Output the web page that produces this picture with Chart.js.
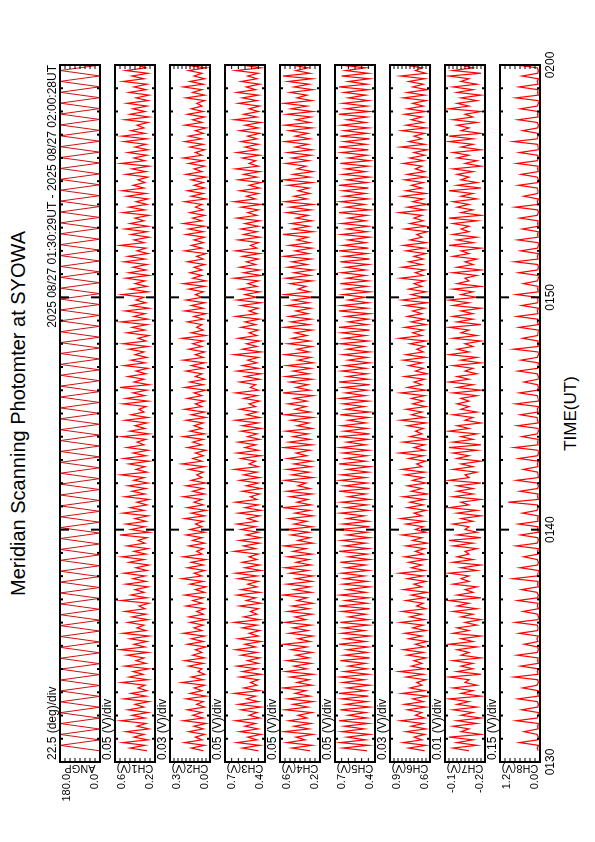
<!DOCTYPE html>
<html><head><meta charset="utf-8">
<script src="https://cdn.jsdelivr.net/npm/chart.js@4.4.1/dist/chart.umd.min.js"></script>
<style>
html,body{margin:0;padding:0;background:#fff;}
body{width:595px;height:842px;overflow:hidden;position:relative;}
#land{position:absolute;left:0;top:0;width:842px;height:595px;transform-origin:0 0;transform:translate(0,842px) rotate(-90deg);font-family:"Liberation Sans",Arial,Helvetica,sans-serif;color:#000;}
#land canvas{position:absolute;left:0;}
.txt{position:absolute;white-space:nowrap;line-height:1;text-align:center;}
</style></head><body>
<div id="land">
<div class="txt" style="left:80px;width:697px;top:8px;font-size:20px;">Meridian Scanning Photomter at SYOWA</div>
<div class="txt" style="left:80px;width:697px;top:562px;font-size:17px;">TIME(UT)</div>
</div>
<script>
// ---- data ----
const timeTickValues = [0, 10, 20, 30];
const timeTickLabels = ['0130', '0140', '0150', '0200'];
const headerText = '2025 08/27 01:30:29UT - 2025 08/27 02:00:28UT';
const dataStartMin = 29 / 60;          // 01:30:29
const dataEndMin = 30 + 28 / 60;       // 02:00:28
const channelNames = ['ANGP', 'CH1(V)', 'CH2(V)', 'CH3(V)', 'CH4(V)', 'CH5(V)', 'CH6(V)', 'CH7(V)', 'CH8(V)'];
const yMins = [0, 0.2, 0.0, 0.4, 0.2, 0.4, 0.6, -0.2, 0.0];
const yMaxs = [180, 0.6, 0.3, 0.7, 0.6, 0.7, 0.9, -0.1, 1.2];
const yDivs = [22.5, 0.05, 0.03, 0.05, 0.05, 0.05, 0.03, 0.01, 0.15];
const yMinLabels = ['0.0', '0.2', '0.0', '0.4', '0.2', '0.4', '0.6', '-0.2', '0.0'];
const yMaxLabels = ['180.0', '0.6', '0.3', '0.7', '0.6', '0.7', '0.9', '-0.1', '1.2'];
const divLabels = ['22.5 (deg)/div', '0.05 (V)/div', '0.03 (V)/div', '0.05 (V)/div', '0.05 (V)/div', '0.05 (V)/div', '0.03 (V)/div', '0.01 (V)/div', '0.15 (V)/div'];

const angp = [1,179,1,179,1,179,1,179,1,179,1,179,1,179,1,179,1,179,1,179,1,179,1,179,1,179,1,179,1,179,1,179,
1,179,1,179,1,179,1,179,1,179,1,179,1,179,1,179,1,179,1,179,1,179,1,179,1,179,1,179,1,179,1,179,
1,179,1,179,1,179,1,179,1,179,1,179,1,179,1,179,1,179,1,179,1,179,1,179,1,179,1,179,1,179,1,179,
1,179,1,179,1,179,1,179,1,179,1,179,1,179,1,179,1,179,1,179,1,179,1,179,1,179,1,179,1,179,1,179,1];

const ch1 = [.28,.45,.30,.52,.27,.41,.31,.49,.26,.38,.29,.54,.30,.43,.27,.47,
.31,.40,.26,.51,.29,.44,.28,.37,.30,.53,.27,.46,.32,.42,.26,.50,
.29,.39,.31,.48,.27,.55,.30,.41,.28,.45,.26,.52,.29,.38,.31,.47,
.27,.43,.29,.50,.30,.36,.26,.54,.28,.44,.31,.40,.27,.49,.29,.42,
.30,.51,.28,.39,.26,.46,.31,.53,.29,.41,.27,.48,.30,.37,.28,.55,
.26,.44,.30,.49,.29,.40,.27,.52,.31,.45,.28,.38,.26,.50,.30,.43,
.29,.47,.27,.41,.31,.54,.28,.39,.30,.46,.26,.51,.29,.42,.27,.48,
.31,.38,.29,.53,.26,.45,.30,.40,.28,.50,.27,.44,.31,.36,.29,.52,
.27,.49,.30,.42,.28,.55,.26,.41,.31,.47,.29,.39,.27,.51,.30,.44,
.28,.40,.31,.46,.27,.52,.29,.37,.26,.48,.30,.43,.28,.54,.27,.41,
.30,.50,.26,.44,.29,.39,.31,.53,.27,.45,.28,.40,.30,.49,.26,.46,
.29,.42,.28,.51,.30,.47,.27,.38,.29,.55,.31,.41,.26,.44,.28,.50,
.27,.45,.31,.40,.26,.52,.30,.46,.28,.39,.27,.48,.29,.53,.31,.42,
.30,.37,.27,.49,.29,.43,.26,.54,.30,.41,.28,.47,.27,.40,.29,.51,
.28,.53,.30,.44,.31,.38,.27,.50,.26,.45,.30,.42,.28,.48,.27,.39,
.26,.46,.29,.41,.28,.52,.31,.43,.27,.49,.29,.37,.30,.54,.28,.44];

const ch2 = [.05,.14,.04,.19,.06,.11,.04,.16,.05,.12,.03,.20,.05,.13,.06,.17,
.04,.10,.05,.18,.03,.15,.06,.12,.04,.21,.05,.14,.04,.09,.06,.16,
.05,.19,.04,.13,.06,.11,.03,.17,.05,.14,.04,.20,.06,.12,.05,.15,
.03,.16,.05,.10,.04,.18,.06,.13,.05,.19,.04,.11,.03,.15,.05,.21,
.06,.12,.04,.17,.05,.14,.03,.20,.06,.10,.05,.16,.04,.13,.06,.18,
.04,.15,.06,.11,.05,.19,.04,.14,.03,.17,.05,.12,.06,.20,.04,.13,
.05,.18,.03,.14,.06,.10,.05,.16,.04,.21,.06,.13,.05,.11,.03,.17,
.06,.13,.05,.20,.04,.15,.06,.12,.05,.18,.03,.14,.04,.19,.06,.11,
.04,.17,.06,.12,.03,.19,.05,.15,.04,.11,.06,.18,.05,.14,.04,.20,
.05,.11,.04,.16,.06,.13,.05,.21,.03,.14,.05,.10,.06,.17,.05,.12,
.03,.19,.05,.14,.04,.18,.06,.11,.05,.16,.04,.20,.03,.13,.06,.15,
.06,.12,.04,.17,.05,.10,.03,.19,.06,.14,.05,.12,.04,.18,.05,.16,
.04,.20,.06,.13,.04,.15,.05,.11,.06,.19,.03,.14,.05,.17,.04,.12,
.05,.14,.03,.18,.06,.12,.04,.16,.05,.20,.06,.11,.04,.15,.05,.19,
.06,.16,.05,.11,.03,.19,.06,.13,.04,.17,.05,.14,.06,.10,.04,.18,
.04,.13,.06,.20,.05,.15,.04,.12,.06,.16,.03,.19,.05,.14,.06,.11];

const ch3 = [.45,.57,.44,.61,.46,.53,.43,.59,.45,.55,.47,.62,.44,.52,.46,.58,
.43,.60,.45,.54,.47,.63,.44,.56,.46,.51,.45,.59,.43,.57,.46,.61,
.45,.53,.44,.58,.46,.62,.47,.55,.43,.60,.45,.52,.44,.57,.46,.63,
.44,.56,.46,.51,.45,.59,.43,.54,.47,.61,.44,.58,.46,.53,.45,.60,
.46,.62,.43,.55,.44,.57,.46,.52,.45,.63,.47,.56,.44,.59,.43,.54,
.45,.58,.47,.61,.46,.53,.44,.60,.43,.55,.45,.62,.46,.51,.44,.57,
.43,.54,.45,.59,.44,.56,.46,.63,.45,.52,.47,.58,.43,.61,.45,.55,
.47,.60,.44,.53,.46,.58,.43,.57,.45,.62,.44,.54,.46,.59,.47,.52,
.44,.56,.46,.62,.45,.51,.47,.59,.44,.55,.43,.61,.45,.57,.46,.53,
.45,.63,.43,.57,.46,.54,.44,.60,.46,.52,.45,.58,.47,.55,.44,.62,
.46,.52,.45,.58,.43,.61,.46,.55,.44,.59,.46,.53,.45,.63,.43,.56,
.44,.59,.47,.54,.45,.57,.44,.62,.46,.51,.45,.60,.44,.56,.46,.58,
.45,.55,.44,.61,.46,.53,.45,.58,.43,.63,.47,.54,.45,.59,.44,.52,
.43,.60,.46,.56,.44,.62,.45,.52,.47,.57,.44,.61,.46,.55,.45,.58,
.46,.53,.44,.59,.45,.55,.43,.63,.46,.56,.45,.52,.44,.60,.46,.57,
.45,.61,.47,.54,.44,.58,.46,.53,.45,.62,.43,.57,.46,.55,.44,.59];

const ch4 = [.30,.48,.28,.53,.35,.44,.27,.56,.31,.46,.29,.51,.33,.42,.28,.55,
.32,.47,.27,.52,.30,.45,.34,.57,.28,.43,.31,.50,.27,.54,.33,.46,
.29,.53,.31,.44,.28,.49,.33,.56,.30,.42,.27,.51,.32,.47,.29,.55,
.34,.45,.28,.52,.31,.48,.27,.43,.33,.57,.29,.46,.30,.53,.28,.44,
.27,.50,.32,.55,.29,.44,.31,.52,.28,.47,.34,.56,.27,.42,.30,.49,
.31,.54,.28,.46,.33,.51,.27,.45,.30,.57,.29,.43,.32,.50,.28,.53,
.30,.42,.34,.55,.27,.48,.31,.53,.29,.46,.28,.52,.33,.44,.30,.56,
.28,.51,.30,.47,.32,.54,.28,.43,.31,.49,.27,.55,.30,.45,.34,.52,
.33,.46,.27,.57,.30,.44,.32,.50,.28,.54,.31,.47,.29,.53,.27,.42,
.29,.55,.31,.43,.28,.52,.30,.48,.33,.45,.28,.56,.31,.49,.29,.51,
.32,.44,.29,.53,.31,.47,.27,.55,.30,.42,.34,.50,.28,.54,.30,.46,
.27,.52,.33,.48,.29,.56,.31,.45,.28,.51,.30,.43,.32,.57,.27,.47,
.31,.49,.28,.44,.32,.53,.29,.50,.27,.55,.33,.46,.30,.42,.31,.52,
.28,.56,.30,.47,.27,.43,.34,.54,.31,.48,.29,.52,.28,.45,.32,.55,
.30,.45,.32,.51,.28,.55,.30,.44,.29,.53,.27,.49,.33,.56,.28,.43,
.33,.50,.27,.46,.31,.52,.28,.57,.30,.44,.32,.48,.29,.54,.31,.47];

const ch5 = [.46,.64,.45,.66,.47,.61,.44,.65,.48,.63,.45,.67,.46,.60,.47,.66,
.44,.62,.46,.65,.45,.67,.47,.61,.44,.64,.48,.66,.45,.63,.46,.60,
.47,.66,.44,.63,.46,.61,.45,.67,.47,.62,.44,.65,.48,.64,.45,.66,
.45,.60,.47,.65,.44,.67,.46,.62,.45,.66,.47,.61,.44,.64,.46,.63,
.48,.65,.45,.62,.47,.66,.44,.60,.46,.67,.45,.63,.47,.65,.44,.61,
.46,.67,.44,.64,.45,.61,.48,.66,.45,.62,.46,.65,.44,.60,.47,.67,
.44,.63,.46,.66,.47,.65,.45,.61,.44,.67,.47,.62,.46,.64,.45,.66,
.47,.61,.45,.67,.44,.63,.46,.65,.47,.60,.45,.66,.44,.62,.48,.64,
.45,.66,.47,.62,.46,.64,.44,.67,.45,.61,.46,.65,.47,.63,.44,.60,
.46,.64,.44,.61,.48,.66,.45,.63,.47,.65,.44,.67,.46,.60,.45,.62,
.44,.67,.46,.65,.45,.60,.47,.64,.44,.62,.46,.66,.45,.61,.47,.65,
.47,.62,.45,.66,.44,.63,.46,.67,.45,.64,.47,.60,.44,.65,.46,.61,
.45,.65,.47,.60,.46,.67,.44,.62,.48,.66,.45,.63,.47,.64,.45,.67,
.46,.61,.44,.64,.47,.62,.45,.66,.44,.60,.46,.65,.45,.67,.47,.63,
.44,.66,.46,.63,.45,.65,.47,.61,.46,.67,.44,.62,.46,.64,.45,.60,
.47,.63,.45,.67,.46,.60,.44,.65,.45,.62,.47,.66,.44,.61,.46,.64];

const ch6 = [.64,.76,.63,.80,.66,.72,.64,.78,.63,.74,.65,.82,.64,.71,.66,.77,
.63,.79,.65,.73,.62,.81,.64,.75,.66,.70,.63,.78,.65,.83,.64,.74,
.66,.72,.63,.77,.65,.80,.64,.71,.62,.76,.66,.79,.63,.73,.65,.82,
.64,.75,.66,.81,.63,.70,.65,.78,.64,.74,.62,.80,.66,.72,.63,.77,
.65,.83,.64,.74,.66,.76,.63,.79,.65,.71,.64,.78,.62,.73,.66,.81,
.63,.71,.65,.78,.64,.82,.66,.72,.63,.77,.65,.75,.64,.80,.62,.74,
.66,.77,.63,.73,.65,.79,.64,.81,.66,.70,.63,.76,.65,.83,.64,.72,
.64,.80,.62,.75,.66,.71,.65,.77,.63,.82,.64,.74,.66,.78,.63,.73,
.65,.74,.64,.82,.63,.77,.66,.72,.64,.79,.62,.71,.65,.76,.66,.80,
.63,.78,.65,.70,.64,.75,.63,.83,.66,.73,.65,.79,.63,.74,.64,.77,
.66,.73,.64,.79,.62,.81,.65,.74,.63,.76,.66,.72,.64,.82,.65,.71,
.64,.81,.66,.76,.65,.72,.63,.78,.64,.80,.63,.75,.66,.70,.62,.79,
.63,.75,.65,.72,.66,.83,.64,.77,.62,.73,.65,.81,.63,.78,.66,.74,
.65,.79,.63,.77,.64,.71,.66,.80,.65,.75,.64,.72,.62,.82,.64,.76,
.66,.72,.64,.81,.63,.78,.65,.74,.66,.79,.63,.77,.65,.73,.63,.80,
.64,.77,.62,.73,.65,.76,.64,.82,.63,.71,.66,.78,.64,.75,.65,.81];

const ch7 = [-.16,-.12,-.18,-.13,-.17,-.11,-.19,-.14,-.16,-.12,-.18,-.13,-.19,-.14,-.17,-.12,
-.18,-.13,-.16,-.11,-.19,-.14,-.17,-.12,-.18,-.15,-.16,-.11,-.19,-.13,-.17,-.14,
-.17,-.12,-.19,-.14,-.16,-.13,-.18,-.11,-.17,-.14,-.19,-.12,-.16,-.13,-.18,-.15,
-.19,-.14,-.17,-.12,-.18,-.13,-.16,-.11,-.19,-.13,-.17,-.15,-.18,-.12,-.16,-.14,
-.16,-.11,-.18,-.14,-.19,-.12,-.17,-.13,-.16,-.15,-.18,-.12,-.17,-.11,-.19,-.13,
-.18,-.15,-.16,-.12,-.17,-.14,-.19,-.13,-.18,-.11,-.16,-.14,-.19,-.12,-.17,-.13,
-.17,-.13,-.19,-.11,-.16,-.15,-.18,-.12,-.17,-.14,-.19,-.13,-.16,-.12,-.18,-.11,
-.19,-.12,-.17,-.14,-.18,-.11,-.16,-.13,-.19,-.15,-.17,-.12,-.18,-.14,-.16,-.13,
-.16,-.14,-.18,-.12,-.19,-.13,-.17,-.11,-.16,-.13,-.18,-.15,-.17,-.12,-.19,-.14,
-.18,-.11,-.16,-.13,-.17,-.15,-.19,-.12,-.18,-.14,-.16,-.11,-.19,-.13,-.17,-.12,
-.17,-.14,-.19,-.12,-.16,-.11,-.18,-.14,-.17,-.12,-.19,-.13,-.16,-.15,-.18,-.12,
-.19,-.13,-.17,-.15,-.18,-.12,-.16,-.14,-.19,-.11,-.17,-.13,-.18,-.12,-.16,-.14,
-.16,-.12,-.18,-.11,-.19,-.14,-.17,-.13,-.16,-.12,-.18,-.14,-.17,-.11,-.19,-.13,
-.18,-.14,-.16,-.13,-.17,-.12,-.19,-.15,-.18,-.13,-.16,-.12,-.19,-.14,-.17,-.11,
-.17,-.11,-.19,-.14,-.16,-.13,-.18,-.12,-.17,-.15,-.19,-.11,-.16,-.13,-.18,-.14,
-.19,-.13,-.17,-.12,-.18,-.14,-.16,-.11,-.19,-.12,-.17,-.14,-.18,-.13,-.16,-.12];

const ch8 = [.06,.08,.05,.62,.07,.05,.09,.48,.06,.07,.05,.71,.08,.06,.05,.55,
.07,.05,.08,.66,.05,.07,.06,.52,.09,.05,.07,.78,.06,.08,.05,.58,
.05,.07,.06,.69,.08,.05,.07,.47,.06,.09,.05,.63,.07,.06,.08,.74,
.06,.05,.07,.51,.05,.08,.06,.67,.07,.05,.09,.56,.05,.07,.06,.81,
.08,.06,.05,.60,.07,.05,.08,.49,.06,.07,.05,.72,.08,.05,.07,.58,
.05,.08,.06,.65,.06,.07,.05,.53,.09,.06,.08,.95,.05,.07,.06,.61,
.07,.05,.08,.70,.05,.06,.07,.50,.06,.08,.05,.64,.07,.05,.06,.77,
.06,.07,.05,.54,.08,.05,.06,.68,.05,.07,.09,.59,.06,.08,.05,.73,
.05,.06,.08,.62,.07,.05,.07,.48,.06,.05,.08,.66,.07,.06,.05,.57,
.08,.05,.06,.79,.05,.07,.06,.52,.07,.06,.05,.63,.05,.08,.07,.69,
.06,.08,.05,.55,.07,.06,.08,.71,.05,.07,.06,.50,.08,.05,.06,.64,
.07,.05,.07,.76,.06,.08,.05,.58,.07,.05,.06,.67,.06,.07,.05,.53,
.05,.07,.06,.61,.08,.05,.07,.74,.06,.08,.05,.49,.07,.06,.08,.65,
.06,.05,.08,.57,.05,.07,.06,.70,.08,.05,.07,.62,.05,.06,.07,.80,
.08,.06,.05,.52,.07,.05,.08,.66,.06,.07,.05,.59,.08,.05,.06,.72,
.05,.07,.06,.63,.06,.08,.05,.54,.07,.05,.08,.68,.06,.07,.05,.60];

const seriesList = [angp, ch1, ch2, ch3, ch4, ch5, ch6, ch7, ch8];

// ---- layout (landscape frame, rotated onto the page) ----
const FIRST_TOP = 60, STEP = 55, PANEL_H = 40, AREA_L = 80, AREA_R = 777, W = 842;
const FONT = '"Liberation Sans", Arial, Helvetica, sans-serif';

const panelDeco = {
  id: 'panelDeco',
  afterDatasetsDraw(chart, args, opts) {
    const k = opts.index;
    const { ctx, chartArea: a } = chart;
    const x = chart.scales.x, y = chart.scales.y;
    ctx.save();
    ctx.strokeStyle = '#000';
    ctx.fillStyle = '#000';
    const seg = (x1, y1, x2, y2) => { ctx.beginPath(); ctx.moveTo(x1, y1); ctx.lineTo(x2, y2); ctx.stroke(); };
    // time ticks (1 min minor, 10 min major), inward on both edges
    ctx.lineWidth = 2;
    for (let m = x.min; m <= x.max; m++) {
      const px = x.getPixelForValue(m);
      const len = (m % 10 === 0) ? 9 : 3;
      seg(px, a.top, px, a.top + len);
      seg(px, a.bottom, px, a.bottom - len);
    }
    // value ticks at each division
    ctx.lineWidth = 1;
    const nDiv = Math.round((yMaxs[k] - yMins[k]) / yDivs[k]);
    for (let j = 0; j <= nDiv; j++) {
      const py = y.getPixelForValue(yMins[k] + j * yDivs[k]);
      seg(a.left, py, a.left + 4, py);
      seg(a.right, py, a.right - 4, py);
    }
    // frame
    ctx.lineWidth = 2;
    ctx.strokeRect(a.left, a.top, a.right - a.left, a.bottom - a.top);
    // division label + header
    ctx.font = '12px ' + FONT;
    ctx.textBaseline = 'alphabetic';
    ctx.textAlign = 'left';
    ctx.fillText(divLabels[k], a.left + 2, a.top - 4);
    if (k === 0) {
      ctx.textAlign = 'right';
      ctx.fillText(headerText, a.right, a.top - 4);
    }
    // y range labels
    ctx.font = '11px ' + FONT;
    ctx.textAlign = 'right';
    ctx.textBaseline = 'top';
    ctx.fillText(yMaxLabels[k], a.left - 12, y.getPixelForValue(yMaxs[k]) + 1);
    ctx.textBaseline = 'bottom';
    ctx.fillText(yMinLabels[k], a.left - 12, y.getPixelForValue(yMins[k]));
    // y title
    ctx.save();
    ctx.translate(a.left - 6, (a.top + a.bottom) / 2);
    ctx.rotate(-Math.PI / 2);
    ctx.textAlign = 'center';
    ctx.textBaseline = 'middle';
    ctx.font = '11px ' + FONT;
    ctx.fillText(channelNames[k], 0, 0);
    ctx.restore();
    // time labels under the last panel
    if (opts.showTime) {
      ctx.font = '12px ' + FONT;
      ctx.textAlign = 'center';
      ctx.textBaseline = 'top';
      timeTickValues.forEach((v, i) => ctx.fillText(timeTickLabels[i], x.getPixelForValue(v), a.bottom + 5));
    }
    ctx.restore();
  }
};

const land = document.getElementById('land');
seriesList.forEach((vals, k) => {
  const last = k === seriesList.length - 1;
  const padTop = 16, padBottom = last ? 30 : 6;
  const top = FIRST_TOP + STEP * k;
  const cv = document.createElement('canvas');
  cv.width = W; cv.height = PANEL_H + padTop + padBottom;
  cv.style.top = (top - padTop) + 'px';
  land.appendChild(cv);
  const n = vals.length;
  const pts = vals.map((v, i) => ({ x: dataStartMin + i * (dataEndMin - dataStartMin) / (n - 1), y: v }));
  new Chart(cv, {
    type: 'line',
    data: { datasets: [{ data: pts, borderColor: k === 0 ? '#d01010' : '#ff0000', borderWidth: k === 0 ? 1 : 1.2, pointRadius: 0, tension: 0, fill: false }] },
    options: {
      responsive: false, animation: false, devicePixelRatio: 1, events: [],
      layout: { padding: { left: AREA_L, right: W - AREA_R, top: padTop, bottom: padBottom } },
      scales: {
        x: { type: 'linear', min: 0, max: 30, display: false },
        y: { type: 'linear', min: yMins[k], max: yMaxs[k], display: false }
      },
      plugins: { legend: { display: false }, tooltip: { enabled: false }, panelDeco: { index: k, showTime: last } }
    },
    plugins: [panelDeco]
  });
});
</script>
</body></html>
